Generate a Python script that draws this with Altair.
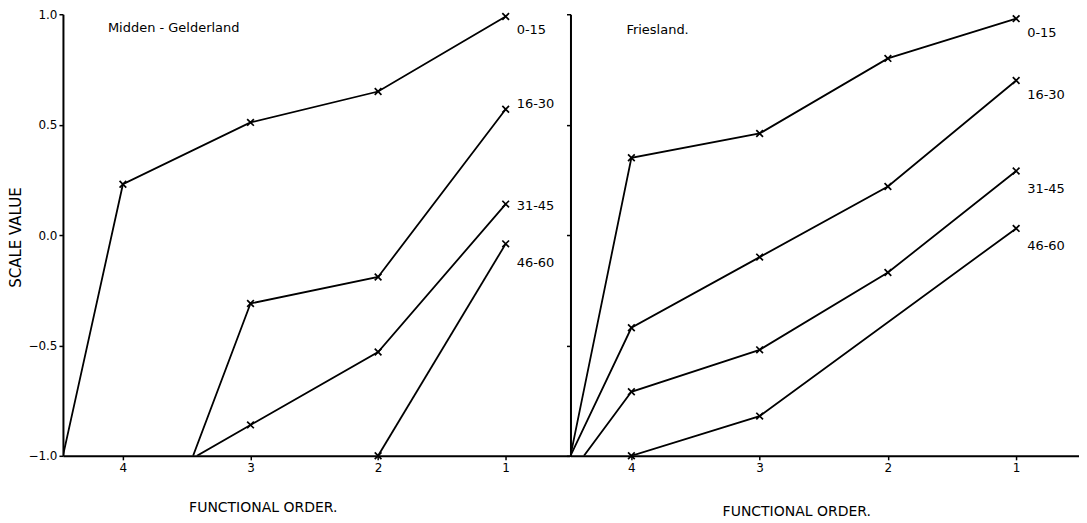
import altair as alt
import pandas as pd

# ---- data ----
series = ["0-15", "16-30", "31-45", "46-60"]
orders = [4, 3, 2, 1]

# Midden - Gelderland (scale values at functional order 4, 3, 2, 1)
mg_0_15 = [0.23, 0.51, 0.65, 0.99]
mg_16_30 = [None, -0.31, -0.19, 0.57]
mg_31_45 = [None, -0.86, -0.53, 0.14]
mg_46_60 = [None, None, -1.0, -0.04]
# order at which each curve leaves the bottom of the scale (-1.0)
mg_exit = [4.47, 3.45, 3.42, None]

# Friesland
fr_0_15 = [0.35, 0.46, 0.80, 0.98]
fr_16_30 = [-0.42, -0.10, 0.22, 0.70]
fr_31_45 = [-0.71, -0.52, -0.17, 0.29]
fr_46_60 = [-1.0, -0.82, None, 0.03]
fr_exit = [4.475, 4.475, 4.37, None]

y_ticks = [-1.0, -0.5, 0.0, 0.5, 1.0]
x_ticks = [4, 3, 2, 1]

mg_label_dy = [14, -5, 2, 19]
fr_label_dy = [14, 15, 18, 18]

FONT = "DejaVu Sans"


def build_rows(vals_list, exits):
    rows = []
    for s, vals, ex in zip(series, vals_list, exits):
        if ex is not None:
            rows.append({"series": s, "x": ex, "y": -1.0, "marker": False})
        for o, v in zip(orders, vals):
            if v is not None:
                rows.append({"series": s, "x": o, "y": v, "marker": True})
    return pd.DataFrame(rows)


def panel(df, name, domain, width, left_axis, title_x, title_y, name_x, name_y, label_dy):
    xscale = alt.Scale(domain=domain, reverse=True, nice=False, zero=False)
    yscale = alt.Scale(domain=[-1, 1], nice=False, zero=False)
    xaxis = alt.Axis(values=x_ticks, format="d", tickSize=4, labelPadding=3,
                     labelFontSize=12, title="FUNCTIONAL ORDER.", titleX=title_x,
                     titleY=title_y, titleAlign="center", titleBaseline="middle",
                     titleFontSize=14, titleFontWeight="normal")
    if left_axis:
        yaxis = alt.Axis(values=y_ticks, format=".1f", tickSize=4, labelPadding=2,
                         labelFontSize=12, title="SCALE VALUE", titleX=-47, titleY=223,
                         titleAlign="center", titleBaseline="middle",
                         titleFontSize=15, titleFontWeight="normal")
    else:
        yaxis = alt.Axis(values=y_ticks, labels=False, tickSize=4, title=None)

    x_enc = alt.X("x:Q", scale=xscale, axis=xaxis)
    y_enc = alt.Y("y:Q", scale=yscale, axis=yaxis)

    base = alt.Chart(df)
    lines = base.mark_line(color="black", strokeWidth=1.8, clip=True).encode(
        x=x_enc, y=y_enc, detail="series:N", order="x:Q")
    pts = base.transform_filter("datum.marker").mark_point(
        shape="M-1,-1L1,1M-1,1L1,-1", size=45, filled=False, color="black",
        strokeWidth=1.7, opacity=1).encode(x=x_enc, y=y_enc)

    layers = [lines, pts]
    last = df[df["marker"]].sort_values("x").groupby("series", as_index=False).first()
    for s, d in zip(series, label_dy):
        sub = last[last["series"] == s]
        layers.append(alt.Chart(sub).mark_text(
            align="left", baseline="middle", dx=11, dy=d, font=FONT, fontSize=13,
            color="black").encode(x=x_enc, y=y_enc, text="series:N"))

    layers.append(alt.Chart(pd.DataFrame({"t": [name]})).mark_text(
        align="left", baseline="middle", font=FONT, fontSize=13, color="black").encode(
        x=alt.value(name_x), y=alt.value(name_y), text="t:N"))

    return alt.layer(*layers).properties(width=width, height=442)


mg_df = build_rows([mg_0_15, mg_16_30, mg_31_45, mg_46_60], mg_exit)
fr_df = build_rows([fr_0_15, fr_16_30, fr_31_45, fr_46_60], fr_exit)

left = panel(mg_df, "Midden - Gelderland", [0.5, 4.47], 507, True, 200, 52, 45, 14, mg_label_dy)
right = panel(fr_df, "Friesland.", [0.51, 4.475], 509, False, 226, 56, 56, 16, fr_label_dy)

chart = alt.hconcat(left, right, spacing=1, bounds="flush").properties(
    padding={"left": 1, "top": 0, "right": 0, "bottom": 0}, background="white"
).configure_view(stroke=None).configure_axis(
    grid=False, domainColor="black", domainWidth=2, tickColor="black", tickWidth=1.5,
    labelColor="black", titleColor="black", labelFont=FONT, titleFont=FONT
)

chart.save("out.html", embed_options={"renderer": "svg", "actions": False})
